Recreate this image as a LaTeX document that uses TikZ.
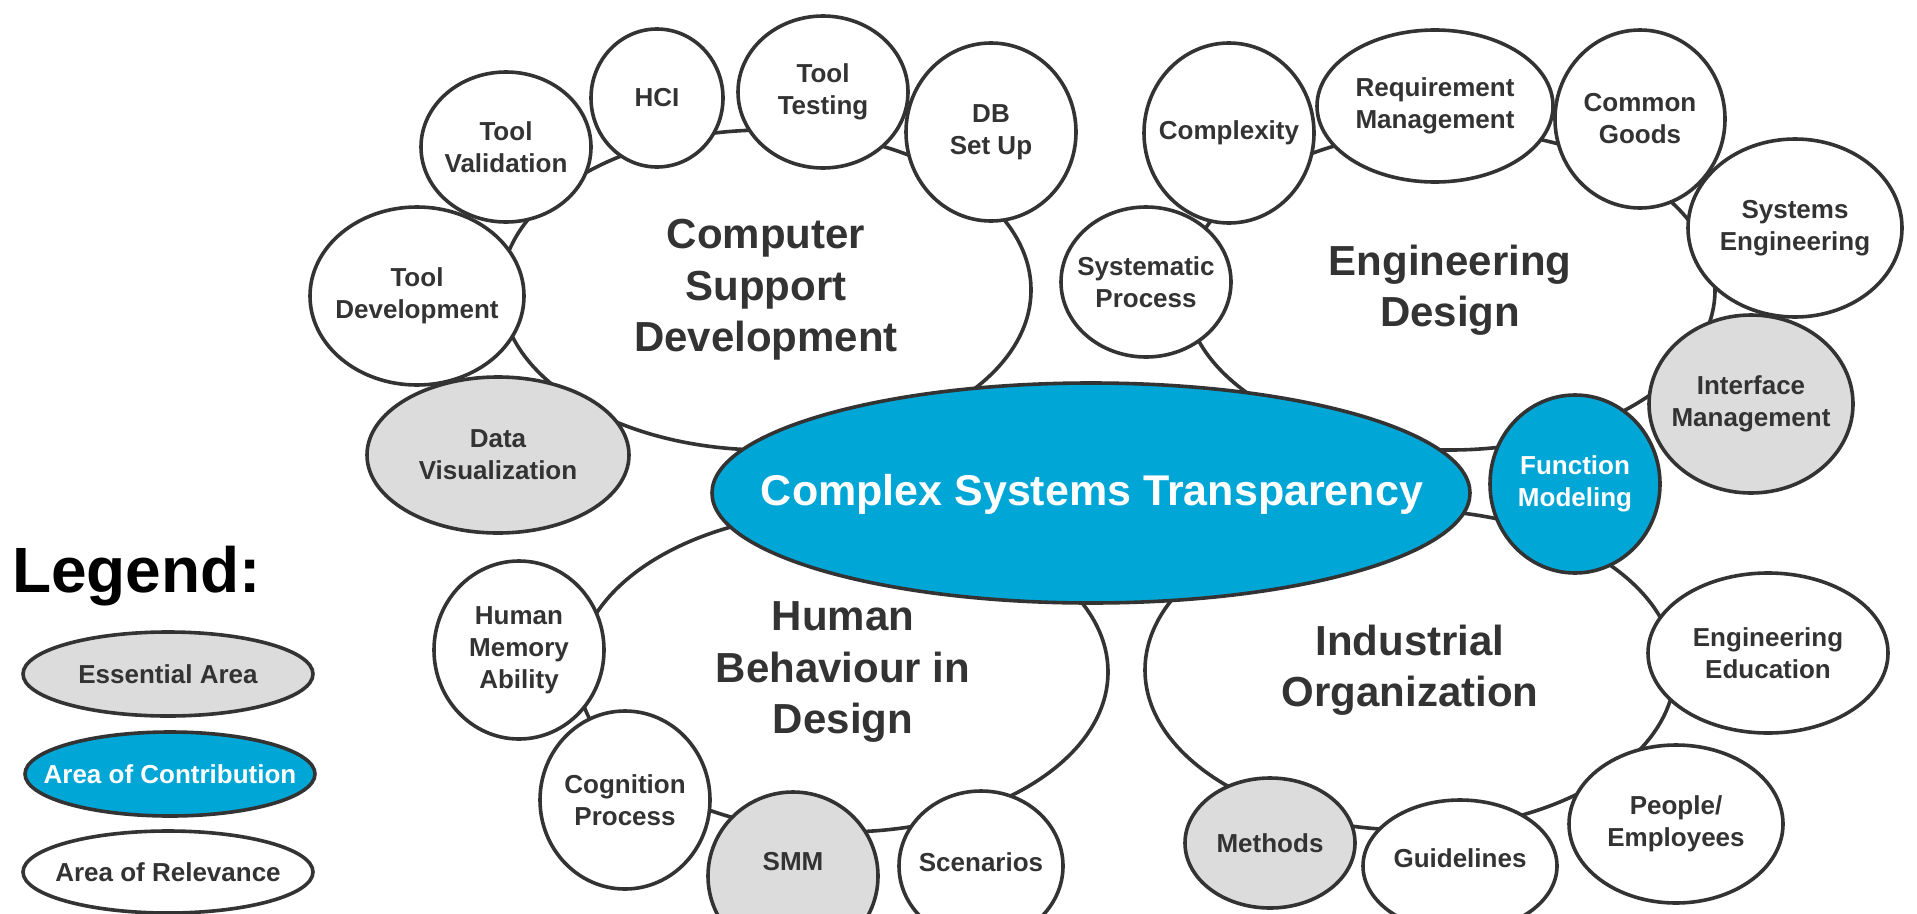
\documentclass[tikz,border=0pt]{standalone}
\usepackage{fontspec}
\setmainfont{Liberation Sans}
\usetikzlibrary{shapes.geometric}
\definecolor{blu}{RGB}{0,166,214}
\definecolor{gry}{RGB}{220,220,220}
\definecolor{ink}{RGB}{51,51,51}
\begin{document}
\begin{tikzpicture}[x=1pt,y=-1pt,
  shp/.style={ellipse, draw=ink, line width=3.6pt, fill=white, inner sep=0pt, outer sep=0pt},
  ess/.style={shp, fill=gry},
  con/.style={shp, fill=blu},
  txt/.style={text=ink, align=center, inner sep=0pt, font=\bfseries\fontsize{26}{32}\selectfont},
  wtxt/.style={txt, text=white},
  bigtxt/.style={text=ink, align=center, inner sep=0pt, font=\bfseries\fontsize{42}{51.5}\selectfont},
]
\useasboundingbox (0,0) rectangle (1917,913);
\fill[white] (0,0) rectangle (1917,913);

% big area circles
\node[shp, minimum width=530pt, minimum height=320pt] (csd) at (766,290) {};
\node[shp, minimum width=530pt, minimum height=320pt] (ed)  at (1450,290) {};
\node[shp, minimum width=530pt, minimum height=320pt] (hbd) at (843,672) {};
\node[shp, minimum width=530pt, minimum height=320pt] (io)  at (1410,670) {};
\node[bigtxt] (csdt) at (csd) {Computer\\Support\\Development};
\node[bigtxt] (edt) at (ed) {Engineering\\Design};
\node[bigtxt] (hbdt) at (hbd) {Human\\Behaviour in\\Design};
\node[bigtxt] (iot) at (io) {Industrial\\Organization};

% central ellipse
\node[con, minimum width=758pt, minimum height=220pt] (cst) at (1091,493) {};
\node[bigtxt, text=white, font=\bfseries\fontsize{43}{50}\selectfont] (cstt) at (1092,494) {Complex Systems Transparency};

% Computer Support Development
\node[shp, minimum width=170pt, minimum height=150pt] (tv) at (506,147) {};
\node[txt] at (tv) {Tool\\Validation};
\node[shp, minimum width=132pt, minimum height=138pt] (hci) at (657,98) {};
\node[txt] at (hci) {HCI};
\node[shp, minimum width=170pt, minimum height=152pt] (tt) at (823,92) {};
\node[txt] at (tt) {Tool\\Testing};
\node[shp, minimum width=170pt, minimum height=178pt] (db) at (991,132) {};
\node[txt] at (db) {DB\\Set Up};
\node[shp, minimum width=214pt, minimum height=178pt] (td) at (417,296) {};
\node[txt] at (td) {Tool\\Development};
\node[ess, minimum width=262pt, minimum height=156pt] (dv) at (498,455) {};
\node[txt] at (dv) {Data\\Visualization};

% Engineering Design
\node[shp, minimum width=170pt, minimum height=180pt] (cx) at (1229,133) {};
\node[txt] at (cx) {Complexity};
\node[shp, minimum width=170pt, minimum height=150pt] (sp) at (1146,282) {};
\node[txt] at (sp) {Systematic\\Process};
\node[shp, minimum width=236pt, minimum height=152pt] (rm) at (1435,106) {};
\node[txt] at (rm) {Requirement\\Management};
\node[shp, minimum width=170pt, minimum height=178pt] (cg) at (1640,119) {};
\node[txt] at (cg) {Common\\Goods};
\node[shp, minimum width=214pt, minimum height=178pt] (se) at (1795,228) {};
\node[txt] at (se) {Systems\\Engineering};
\node[ess, minimum width=204pt, minimum height=178pt] (im) at (1751,404) {};
\node[txt] at (im) {Interface\\Management};
\node[con, minimum width=170pt, minimum height=178pt] (fm) at (1575,484) {};
\node[wtxt] at (fm) {Function\\Modeling};

% Industrial Organization
\node[shp, minimum width=240pt, minimum height=160pt] (ee) at (1768,653) {};
\node[txt] at (ee) {Engineering\\Education};
\node[shp, minimum width=214pt, minimum height=158pt] (pe) at (1676,824) {};
\node[txt] at (pe) {People/\\Employees};
\node[shp, minimum width=194pt, minimum height=132pt] (gl) at (1460,866) {};
\node[txt] at (1460,858) {Guidelines};
\node[ess, minimum width=170pt, minimum height=130pt] (me) at (1270,843) {};
\node[txt] at (me) {Methods};

% Human Behaviour in Design
\node[shp, minimum width=164pt, minimum height=150pt] (sc) at (981,866) {};
\node[txt] at (981,862) {Scenarios};
\node[ess, minimum width=170pt, minimum height=168pt] (smm) at (793,876) {};
\node[txt] at (793,862) {SMM};
\node[shp, minimum width=170pt, minimum height=178pt] (hma) at (519,650) {};
\node[txt] at (hma) {Human\\Memory\\Ability};
\node[shp, minimum width=170pt, minimum height=178pt] (cp) at (625,800) {};
\node[txt] at (cp) {Cognition\\Process};

% legend
\node[anchor=base west, inner sep=0pt, text=black, font=\bfseries\fontsize{64}{72}\selectfont] (lg) at (12,592) {Legend:};
\node[ess, minimum width=290pt, minimum height=84pt] (le) at (168,674) {};
\node[txt] at (le) {Essential Area};
\node[con, minimum width=290pt, minimum height=84pt] (lc) at (170,774) {};
\node[wtxt] at (lc) {Area of Contribution};
\node[shp, minimum width=290pt, minimum height=82pt] (lr) at (168,872) {};
\node[txt] at (lr) {Area of Relevance};
\end{tikzpicture}
\end{document}
